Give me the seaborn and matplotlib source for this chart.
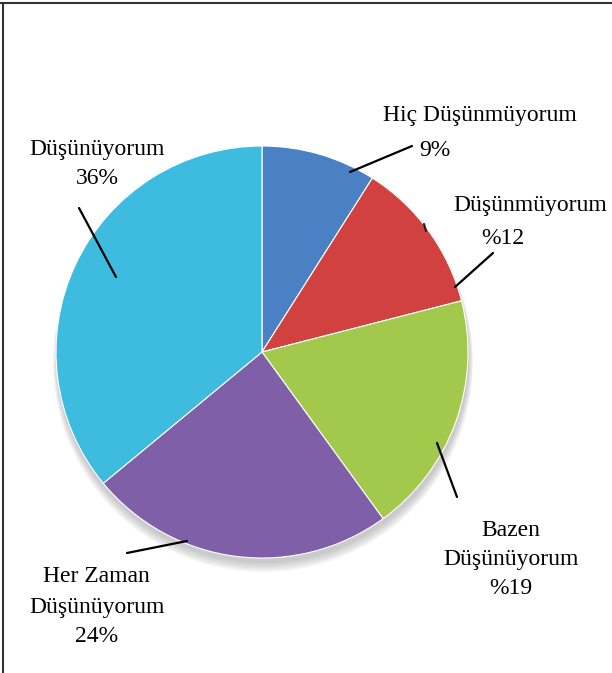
import numpy as np
import matplotlib
matplotlib.use("Agg")
import matplotlib.pyplot as plt
import seaborn as sns

# Data
categories = ["Hiç Düşünmüyorum", "Düşünmüyorum", "Bazen Düşünüyorum",
              "Her Zaman Düşünüyorum", "Düşünüyorum"]
values = [9, 12, 19, 24, 36]
label_lines = [["Hiç Düşünmüyorum", "9%"],
               ["Düşünmüyorum", "%12"],
               ["Bazen", "Düşünüyorum", "%19"],
               ["Her Zaman", "Düşünüyorum", "24%"],
               ["Düşünüyorum", "36%"]]
colors = ["#4a80c4", "#d0413f", "#a2c94b", "#7f5fa8", "#3dbce0"]

sns.set_theme(style="white")
plt.rcParams['font.family'] = ['Liberation Serif', 'DejaVu Serif']

W, H = 612, 673
fig = plt.figure(figsize=(W / 100, H / 100), dpi=100)
ax = fig.add_axes([0, 0, 1, 1])


def P(x, y):
    # pixel (top-left origin) -> data coords
    return x, H - y


cx, cy = P(262, 352)
R = 206

# soft shadow under the pie (mostly below)
for i in range(6):
    ax.add_patch(plt.Circle((cx + 1, cy - 5 - i), R + i * 0.8, color="#707070",
                            alpha=0.07, zorder=0, lw=0))

wedges, _ = ax.pie(values, colors=colors, startangle=90, counterclock=False,
                   center=(cx, cy), radius=R, frame=True,
                   wedgeprops=dict(edgecolor="#ffffff", linewidth=0.8))
ax.set_xlim(0, W)
ax.set_ylim(0, H)
ax.set_aspect("equal")
ax.axis("off")

# label line positions (pixel coords)
label_pos = [[(480, 115), (435, 150)],
             [(530, 205), (503, 238)],
             [(511, 531), (511, 560), (511, 589)],
             [(96, 577), (97, 607), (97, 636)],
             [(97, 150), (97, 179)]]
leaders = [((350, 172), (412, 146)), ((455, 287), (493, 253)), ((437, 443), (457, 497)),
           ((187, 541), (127, 553)), ((116, 277), (79, 208))]

for lines, positions in zip(label_lines, label_pos):
    for txt, (lx, ly) in zip(lines, positions):
        x, y = P(lx, ly)
        ax.text(x, y, txt, ha="center", va="center", fontsize=17, color="#000000",
                zorder=5)

for (p0, p1) in leaders:
    x0, y0 = P(*p0)
    x1, y1 = P(*p1)
    ax.plot([x0, x1], [y0, y1], color="black", lw=1.6, zorder=4)

# small stray mark on the red slice edge
x0, y0 = P(424, 224)
x1, y1 = P(426, 231)
ax.plot([x0, x1], [y0, y1], color="#222222", lw=1.6, zorder=4)

# frame lines (top and left)
fig.add_artist(plt.Line2D([0, 1], [1 - 2.5 / H, 1 - 2.5 / H], transform=fig.transFigure,
                          color="#333333", lw=1.5))
fig.add_artist(plt.Line2D([2.5 / W, 2.5 / W], [0, 1 - 2.5 / H], transform=fig.transFigure,
                          color="#333333", lw=1.5))

fig.savefig("out.png", dpi=100, facecolor="white")
